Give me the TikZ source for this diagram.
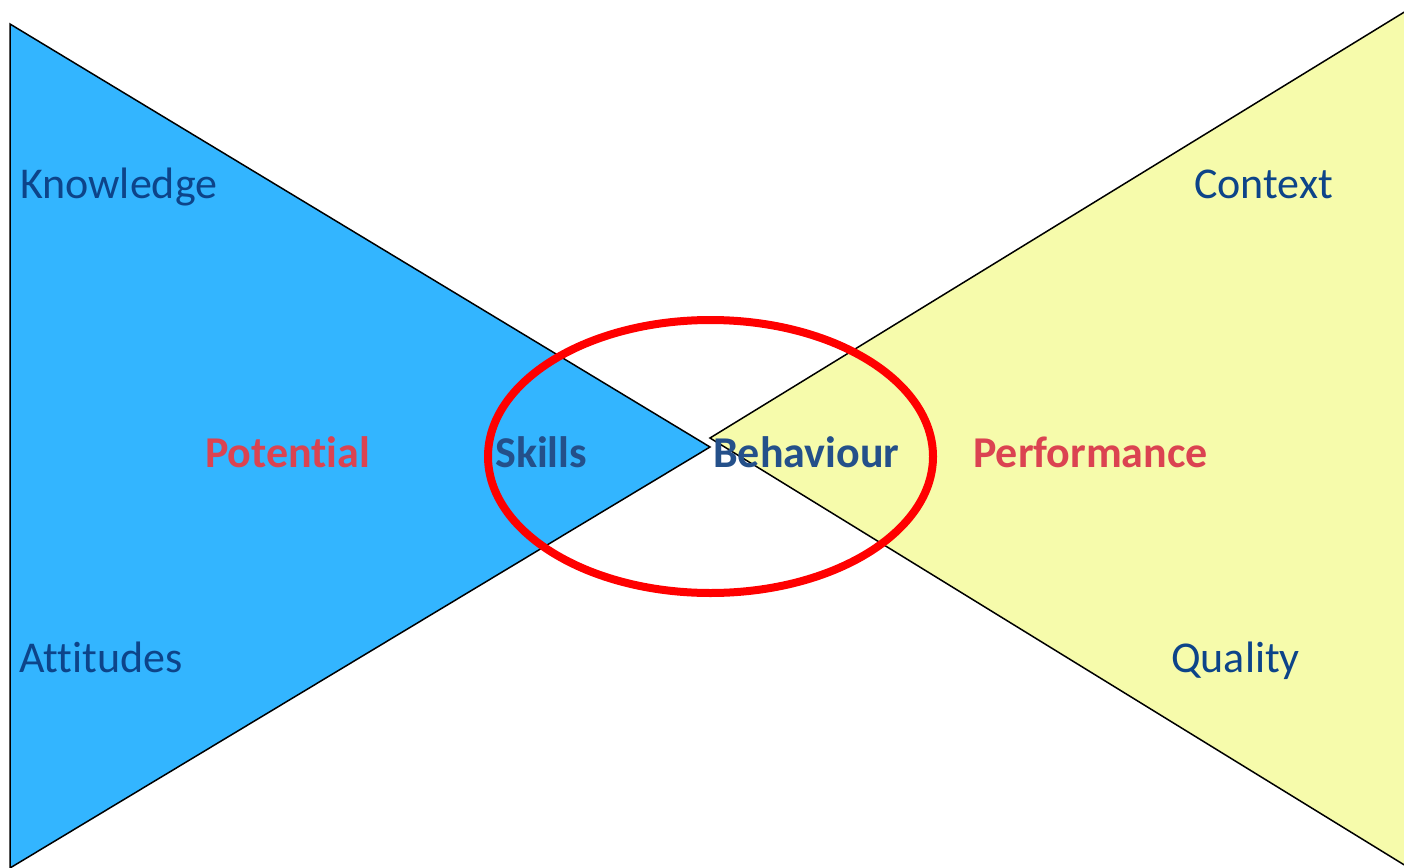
\documentclass[tikz,border=0pt]{standalone}
\usepackage{fontspec}
\setmainfont{Carlito}[Ligatures={NoCommon,TeX}]
\definecolor{lblue}{HTML}{33B5FF}
\definecolor{lyel}{HTML}{F6FBAB}
\definecolor{dblue}{HTML}{0D4489}
\definecolor{sblue}{HTML}{24508A}
\definecolor{tred}{HTML}{DB4351}
\definecolor{ered}{HTML}{FF0000}
\tikzset{
  lbl/.style={anchor=base west,inner sep=0pt,font=\fontsize{44}{48}\selectfont,text=dblue},
  blbl/.style={anchor=base west,inner sep=0pt,font=\fontsize{44}{48}\selectfont\bfseries,text=sblue},
  rlbl/.style={anchor=base west,inner sep=0pt,font=\fontsize{44}{48}\selectfont\bfseries,text=tred},
  tri/.style={draw=black,line width=1.5pt,line join=miter}
}
\begin{document}
\begin{tikzpicture}[x=1pt,y=-1pt]
\useasboundingbox (0,0) rectangle (1404,867);
\coordinate (l1) at (10,24);
\coordinate (l2) at (10,868);
\coordinate (la) at (710,447);
\coordinate (ra) at (710,438);
\coordinate (r1) at (1406,11);
\coordinate (r2) at (1406,866);
\filldraw[tri,fill=lblue] (l1) -- (la) -- (l2) -- cycle;
\filldraw[tri,fill=lyel] (ra) -- (r1) -- (r2) -- cycle;
\node[lbl] (know) at (20,198) {Knowledge};
\node[lbl] (att) at (19,672) {Attitudes};
\node[lbl] (ctx) at (1194,198) {Context};
\node[lbl] (qual) at (1171,672) {Quality};
\node[rlbl] (pot) at (205,467) {Potential};
\node[rlbl] (perf) at (973,467) {Performance};
\node[blbl] (sk) at (495,467) {Skills};
\node[blbl] (beh) at (713,467) {Behaviour};
\draw[ered,line width=8pt] (710.5,456.5) ellipse [x radius=222.5, y radius=136.5];
\end{tikzpicture}
\end{document}
